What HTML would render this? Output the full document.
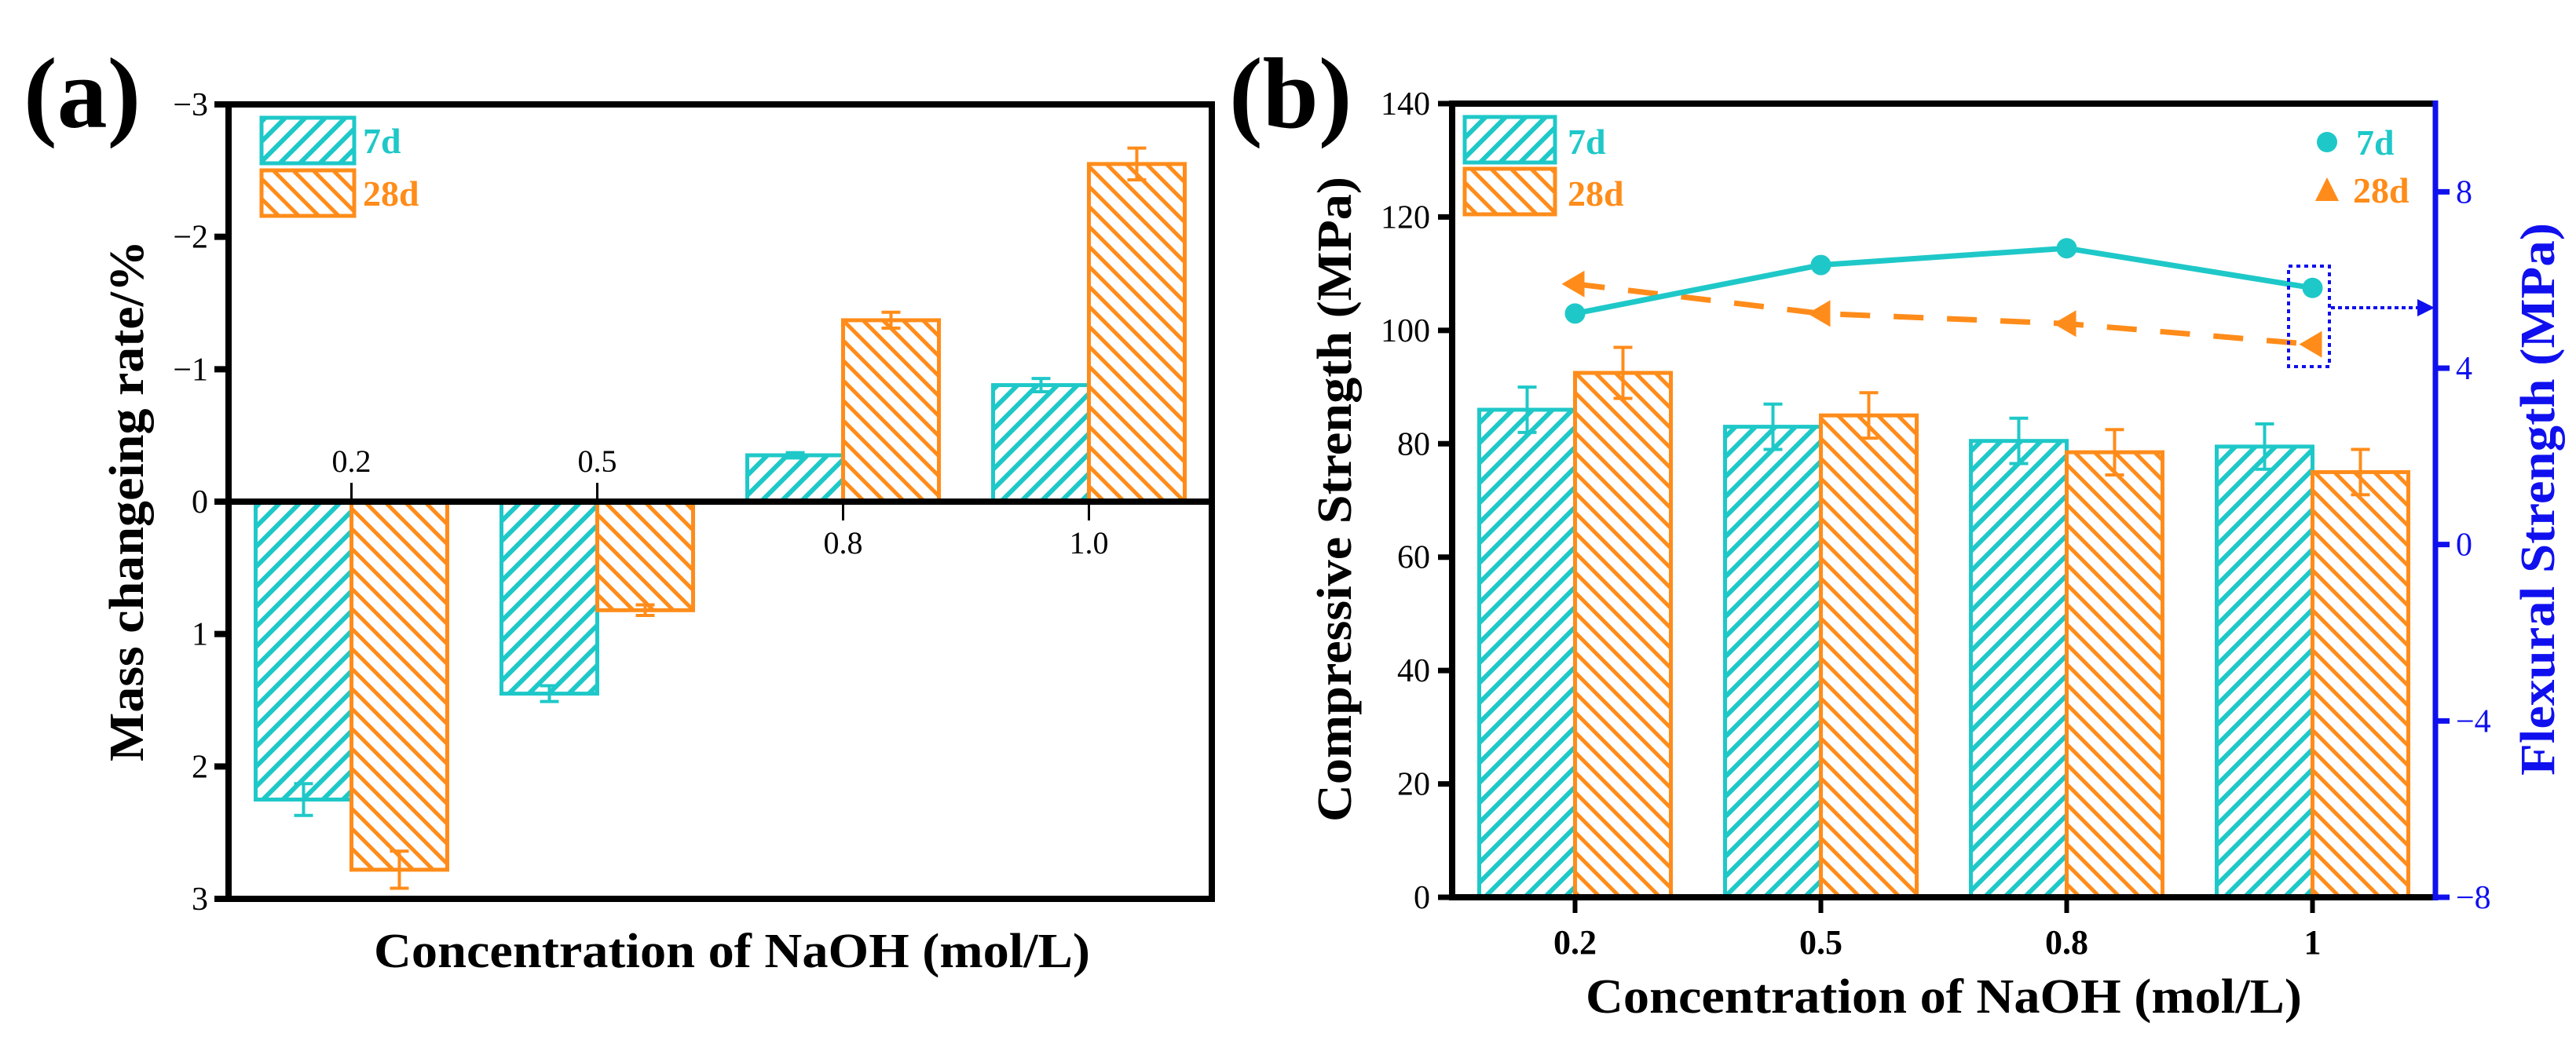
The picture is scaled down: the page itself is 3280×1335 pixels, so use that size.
<!DOCTYPE html>
<html><head><meta charset="utf-8"><style>
html,body{margin:0;padding:0;background:#fff;}
svg{display:block;}
text{font-family:"Liberation Serif",serif;}
</style></head><body>
<svg id="fig" width="3280" height="1335" viewBox="0 0 3280 1335" xmlns="http://www.w3.org/2000/svg">
<defs>
<pattern id="hatchC" patternUnits="userSpaceOnUse" width="18" height="18" patternTransform="rotate(45)">
<rect width="18" height="18" fill="#fff"/><rect x="0" y="0" width="6" height="18" fill="#1fc8c8"/></pattern>
<pattern id="hatchO" patternUnits="userSpaceOnUse" width="18" height="18" patternTransform="rotate(-45)">
<rect width="18" height="18" fill="#fff"/><rect x="0" y="0" width="5" height="18" fill="#ff8c1a"/></pattern>
</defs>
<g id="pa"></g>
<g id="pb"></g>
</svg>
<script>
// Panel (a) data
const catsA = ["0.2","0.5","0.8","1.0"];
const mass7 = [2.25, 1.45, -0.35, -0.88];
const mass28 = [2.78, 0.82, -1.37, -2.55];
const massErr7 = [0.12, 0.06, 0.02, 0.05];
const massErr28 = [0.14, 0.04, 0.06, 0.12];
const ticksA = [-3,-2,-1,0,1,2,3];
const tickLabelsA = ["\u22123","\u22122","\u22121","0","1","2","3"];
// Panel (b) data
const catsB = ["0.2","0.5","0.8","1"];
const comp7 = [86, 83, 80.5, 79.5];
const comp28 = [92.5, 85, 78.5, 75];
const compErr7 = [4, 4, 4, 4];
const compErr28 = [4.5, 4, 4, 4];
const flex7 = [5.24, 6.34, 6.72, 5.82];
const flex28 = [5.91, 5.24, 5.01, 4.54];
const ticksBL = [0,20,40,60,80,100,120,140];
const ticksBR = [-8,-4,0,4,8];
const tickLabelsBR = ["\u22128","\u22124","0","4","8"];

const NS="http://www.w3.org/2000/svg";
const CY="#1fc8c8", OR="#ff8c1a", BL="#1010ee";
function mk(parent,tag,attrs,txt){const e=document.createElementNS(NS,tag);for(const k in attrs)e.setAttribute(k,attrs[k]);if(txt!==undefined)e.textContent=txt;parent.appendChild(e);return e;}

// ---------- Panel A ----------
const pa=document.getElementById('pa');
const A={l:291,r:1543,t:133,b:1145};
const yA=v=>A.t+(v-(-3))/6*(A.b-A.t);
const bandA=(A.r-A.l)/catsA.length;
const xA=i=>A.l+bandA*(i+0.5);
const BW=122;
function barA(i,v,err,off,fill,stroke,nm){
  const x=xA(i)+off, y0=yA(0), y1=yA(v);
  const r=mk(pa,'rect',{x:x,y:Math.min(y0,y1),width:BW,height:Math.abs(y1-y0),fill:fill,stroke:stroke,'stroke-width':5});
  
  
  const cx=x+BW/2, e1=yA(v-err), e2=yA(v+err);
  const g=mk(pa,'g',{stroke:stroke,'stroke-width':4});
  
  
  mk(g,'line',{x1:cx,x2:cx,y1:e1,y2:e2});
  mk(g,'line',{x1:cx-12,x2:cx+12,y1:e1,y2:e1});
  mk(g,'line',{x1:cx-12,x2:cx+12,y1:e2,y2:e2});
}
catsA.forEach((c,i)=>{
  barA(i,mass7[i],massErr7[i],-BW,'url(#hatchC)',CY,'bar-7d-'+c);
  barA(i,mass28[i],massErr28[i],0,'url(#hatchO)',OR,'bar-28d-'+c);
});
const fa=mk(pa,'rect',{x:A.l,y:A.t,width:A.r-A.l,height:A.b-A.t,fill:'none',stroke:'#000','stroke-width':8});


const za=mk(pa,'line',{x1:A.l,x2:A.r,y1:yA(0),y2:yA(0),stroke:'#000','stroke-width':8});


ticksA.forEach((t,k)=>{
  mk(pa,'line',{x1:A.l-18,x2:A.l,y1:yA(t),y2:yA(t),stroke:'#000','stroke-width':8});
  const tx=mk(pa,'text',{x:A.l-26,y:yA(t)+14,'text-anchor':'end','font-size':42},tickLabelsA[k]);
  
  
});
catsA.forEach((c,i)=>{
  const up = mass7[i]>0;
  const x=xA(i), y0=yA(0);
  mk(pa,'line',{x1:x,x2:x,y1:y0,y2:up?y0-24:y0+24,stroke:'#000','stroke-width':3});
  const tx=mk(pa,'text',{x:x,y:up?y0-38:y0+66,'text-anchor':'middle','font-size':40},c);
  
  
});
[[CY,'url(#hatchC)','7d',148],[OR,'url(#hatchO)','28d',215]].forEach(([c,f,l,y])=>{
  const r=mk(pa,'rect',{x:333,y:y+2,width:118,height:58,fill:f,stroke:c,'stroke-width':5});
  
  
  const t=mk(pa,'text',{x:462,y:y+47,'font-size':46,'font-weight':'bold',fill:c},l);
  
  
});
let t;
t=mk(pa,'text',{x:30,y:162,'font-size':128,'font-weight':'bold'},'(a)');


t=mk(pa,'text',{x:932,y:1232,'text-anchor':'middle','font-size':62,'font-weight':'bold',textLength:912,lengthAdjust:'spacingAndGlyphs'},'Concentration of NaOH (mol/L)');


t=mk(pa,'text',{x:0,y:0,'text-anchor':'middle','font-size':62,'font-weight':'bold',transform:'translate(182,638) rotate(-90)',textLength:664,lengthAdjust:'spacingAndGlyphs'},'Mass changeing rate/%');



// ---------- Panel B ----------
const pb=document.getElementById('pb');
const B={l:1849,r:3101,t:132,b:1143};
const yB=v=>B.b-v/140*(B.b-B.t);
const yF=v=>B.b-(v+8)/18*(B.b-B.t);
const bandB=(B.r-B.l)/catsB.length;
const xB=i=>B.l+bandB*(i+0.5);
function barB(i,v,err,off,fill,stroke,nm){
  const x=xB(i)+off;
  const r=mk(pb,'rect',{x:x,y:yB(v),width:BW,height:yB(0)-yB(v),fill:fill,stroke:stroke,'stroke-width':5});
  
  
  const cx=x+BW/2,e1=yB(v-err),e2=yB(v+err);
  const g=mk(pb,'g',{stroke:stroke,'stroke-width':4});
  
  
  mk(g,'line',{x1:cx,x2:cx,y1:e1,y2:e2});
  mk(g,'line',{x1:cx-12,x2:cx+12,y1:e1,y2:e1});
  mk(g,'line',{x1:cx-12,x2:cx+12,y1:e2,y2:e2});
}
catsB.forEach((c,i)=>{
  barB(i,comp7[i],compErr7[i],-BW,'url(#hatchC)',CY,'comp-bar-7d-'+c);
  barB(i,comp28[i],compErr28[i],0,'url(#hatchO)',OR,'comp-bar-28d-'+c);
});
const l28=mk(pb,'polyline',{points:flex28.map((v,i)=>xB(i)+','+yF(v)).join(' '),fill:'none',stroke:OR,'stroke-width':7,'stroke-dasharray':'38 30'});


const l7=mk(pb,'polyline',{points:flex7.map((v,i)=>xB(i)+','+yF(v)).join(' '),fill:'none',stroke:CY,'stroke-width':7});


flex7.forEach((v,i)=>{
  const c=mk(pb,'circle',{cx:xB(i),cy:yF(v),r:13,fill:CY});
  
  
});
flex28.forEach((v,i)=>{
  const x=xB(i),y=yF(v);
  const p=mk(pb,'polygon',{points:`${x-17},${y} ${x+12},${y-17} ${x+12},${y+17}`,fill:OR});
  
  
});
const bx=mk(pb,'rect',{x:2914,y:339,width:52,height:128,fill:'none',stroke:BL,'stroke-width':4,'stroke-dasharray':'5 5'});


const ar=mk(pb,'line',{x1:2968,x2:3085,y1:392,y2:392,stroke:BL,'stroke-width':4,'stroke-dasharray':'5 4'});


mk(pb,'polygon',{points:'3100,392 3078,381 3078,403',fill:BL});
mk(pb,'line',{x1:B.l,x2:B.r,y1:B.t,y2:B.t,stroke:'#000','stroke-width':8});
mk(pb,'line',{x1:B.l,x2:B.r,y1:B.b,y2:B.b,stroke:'#000','stroke-width':8});
mk(pb,'line',{x1:B.l,x2:B.l,y1:B.t-4,y2:B.b+4,stroke:'#000','stroke-width':8});
mk(pb,'line',{x1:B.r,x2:B.r,y1:B.t-4,y2:B.b+4,stroke:BL,'stroke-width':7});
ticksBL.forEach(v=>{
  mk(pb,'line',{x1:B.l-18,x2:B.l,y1:yB(v),y2:yB(v),stroke:'#000','stroke-width':7});
  const tx=mk(pb,'text',{x:B.l-28,y:yB(v)+14,'text-anchor':'end','font-size':42},String(v));
  
  
});
ticksBR.forEach((v,k)=>{
  mk(pb,'line',{x1:B.r,x2:B.r+18,y1:yF(v),y2:yF(v),stroke:BL,'stroke-width':7});
  const tx=mk(pb,'text',{x:B.r+26,y:yF(v)+14,'font-size':42,fill:BL},tickLabelsBR[k]);
  
  
});
catsB.forEach((c,i)=>{
  mk(pb,'line',{x1:xB(i),x2:xB(i),y1:B.b,y2:B.b+20,stroke:'#000','stroke-width':6});
  const tx=mk(pb,'text',{x:xB(i),y:1215,'text-anchor':'middle','font-size':44,'font-weight':'bold'},c);
  
  
});
[[CY,'url(#hatchC)','7d',149],[OR,'url(#hatchO)','28d',215]].forEach(([c,f,l,y])=>{
  const r=mk(pb,'rect',{x:1865,y:y,width:115,height:58,fill:f,stroke:c,'stroke-width':5});
  
  
  const t2=mk(pb,'text',{x:1996,y:y+47,'font-size':46,'font-weight':'bold',fill:c},l);
  
  
});
let lc=mk(pb,'circle',{cx:2963,cy:181,r:13,fill:CY});


let lt=mk(pb,'text',{x:3000,y:197,'font-size':46,'font-weight':'bold',fill:CY},'7d');


lc=mk(pb,'polygon',{points:'2963,226 2948,256 2978,256',fill:OR});


lt=mk(pb,'text',{x:2996,y:258,'font-size':46,'font-weight':'bold',fill:OR},'28d');


t=mk(pb,'text',{x:1565,y:162,'font-size':128,'font-weight':'bold'},'(b)');


t=mk(pb,'text',{x:2475,y:1290,'text-anchor':'middle','font-size':62,'font-weight':'bold',textLength:912,lengthAdjust:'spacingAndGlyphs'},'Concentration of NaOH (mol/L)');


t=mk(pb,'text',{x:0,y:0,'text-anchor':'middle','font-size':62,'font-weight':'bold',transform:'translate(1720,636) rotate(-90)',textLength:822,lengthAdjust:'spacingAndGlyphs'},'Compressive Strength (MPa)');


t=mk(pb,'text',{x:0,y:0,'text-anchor':'middle','font-size':62,'font-weight':'bold',fill:BL,transform:'translate(3252,636) rotate(-90)',textLength:704,lengthAdjust:'spacingAndGlyphs'},'Flexural Strength (MPa)');


</script>
</body></html>
